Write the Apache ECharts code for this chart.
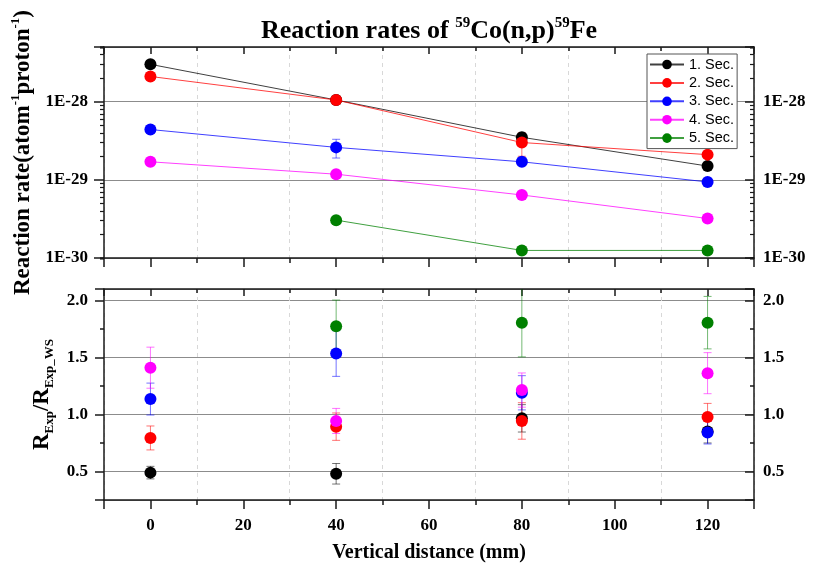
<!DOCTYPE html>
<html>
<head>
<meta charset="utf-8">
<script src="https://cdn.jsdelivr.net/npm/echarts@6/dist/echarts.min.js"></script>
<style>
  html, body { margin: 0; padding: 0; background: #fff; }
  #main { width: 815px; height: 573px; }
</style>
</head>
<body>
<div id="main"></div>
<script>
// data
const distances = [0, 40, 80, 120];
const secNames = ['1. Sec.', '2. Sec.', '3. Sec.', '4. Sec.', '5. Sec.'];
const secColors = ['#000000', '#ff0000', '#0000ff', '#ff00ff', '#008000'];

// reaction rates (atom^-1 proton^-1)
const rate1 = [3.0e-28, 1.05e-28, 3.5e-29, 1.5e-29];
const rate2 = [2.1e-28, 1.05e-28, 3.0e-29, 2.1e-29];
const rate3 = [4.4e-29, 2.6e-29, 1.7e-29, 9.4e-30];
const rate4 = [1.7e-29, 1.18e-29, 6.4e-30, 3.2e-30];
const rate5 = [null, 3.05e-30, 1.25e-30, 1.25e-30];
const rateErr1 = [0, 0, 0.2e-29, 0];
const rateErr2 = [0, 0, 1.0e-29, 0];
const rateErr3 = [0, 0.7e-29, 0, 0];
const rateErr4 = [0, 0, 0, 0];
const rateErr5 = [0, 0, 0, 0];
const rateMin = 1e-30, rateMax = 5e-28;
const rateMinorSteps = [2, 3, 4, 5, 6, 7, 8, 9];

// R_Exp / R_Exp_WS
const ratio1 = [0.49, 0.48, 0.966, 0.85];
const ratio2 = [0.794, 0.893, 0.943, 0.977];
const ratio3 = [1.135, 1.534, 1.19, 0.841];
const ratio4 = [1.41, 0.943, 1.214, 1.362];
const ratio5 = [null, 1.773, 1.805, 1.805];
const ratioErr1 = [0.055, 0.09, 0.12, 0.1];
const ratioErr2 = [0.105, 0.12, 0.16, 0.12];
const ratioErr3 = [0.14, 0.2, 0.15, 0.1];
const ratioErr4 = [0.18, 0.11, 0.15, 0.18];
const ratioErr5 = [null, 0.23, 0.3, 0.23];
const ratioMin = 0.25, ratioMax = 2.1;

const rates = [rate1, rate2, rate3, rate4, rate5];
const rateErrs = [rateErr1, rateErr2, rateErr3, rateErr4, rateErr5];
const ratios = [ratio1, ratio2, ratio3, ratio4, ratio5];
const ratioErrs = [ratioErr1, ratioErr2, ratioErr3, ratioErr4, ratioErr5];

// echarts rounds log ticks to 10 decimals, so the rate axis runs in units of 1e-30
const RU = 1e-30;
const RU_EXP = -30;

const serif = "'Liberation Serif', 'Times New Roman', serif";
const sans = "'Liberation Sans', Arial, sans-serif";
const ink = '#1a1a1a';

function pairs(vals, unit) {
    return distances.map((d, i) => [d, vals[i] == null ? null : vals[i] / unit]).filter(p => p[1] != null);
}
function errTriples(vals, errs, unit) {
    return distances
        .map((d, i) => [d, vals[i] == null ? null : vals[i] / unit, errs[i] ? errs[i] / unit : 0])
        .filter(p => p[1] != null && p[2]);
}
function hexAlpha(hex, a) {
    const n = parseInt(hex.slice(1), 16);
    return 'rgba(' + (n >> 16) + ',' + ((n >> 8) & 255) + ',' + (n & 255) + ',' + a + ')';
}
function errorBars(color) {
    return function (params, api) {
        const x = api.value(0), y = api.value(1), e = api.value(2);
        const hi = api.coord([x, y + e]);
        const lo = api.coord([x, y - e]);
        const w = 4;
        const st = { stroke: hexAlpha(color, 0.55), lineWidth: 1 };
        return {
            type: 'group',
            children: [
                { type: 'line', shape: { x1: hi[0], y1: hi[1], x2: lo[0], y2: lo[1] }, style: st },
                { type: 'line', shape: { x1: hi[0] - w, y1: hi[1], x2: hi[0] + w, y2: hi[1] }, style: st },
                { type: 'line', shape: { x1: lo[0] - w, y1: lo[1], x2: lo[0] + w, y2: lo[1] }, style: st }
            ]
        };
    };
}
function expLabel(v) {
    const e = Math.log10(v);
    const r = Math.round(e);
    return Math.abs(e - r) < 1e-6 ? '1E' + (r + RU_EXP) : '';
}
function halfLabel(v) {
    return Math.abs(v * 2 - Math.round(v * 2)) < 1e-6 ? v.toFixed(1) : '';
}

const tickFont = { fontFamily: serif, fontWeight: 'bold', fontSize: 17, color: '#000' };
const hidden = { show: false };
const noLine = { show: false, onZero: false };
const frame = { show: true, onZero: false, lineStyle: { color: ink, width: 1.5 } };

// x axes: major + minor at bottom (outward) and top (inward), per grid
function xAxes(grid, withLabels) {
    const base = { type: 'value', gridIndex: grid, min: -10, max: 130 };
    return [
        Object.assign({}, base, {
            position: 'bottom', splitNumber: 7,
            axisLine: frame,
            axisTick: { show: true, length: 9, lineStyle: { color: ink, width: 1.5 } },
            axisLabel: withLabels ? Object.assign({ margin: 17, formatter: v => (v % 20 === 0 ? String(v) : '') }, tickFont) : hidden,
            splitLine: hidden,
            name: withLabels ? 'Vertical distance (mm)' : '',
            nameLocation: 'middle', nameGap: 43,
            nameTextStyle: { fontFamily: serif, fontWeight: 'bold', fontSize: 20, color: '#000' }
        }),
        Object.assign({}, base, {
            position: 'bottom', interval: 20,
            axisLine: noLine,
            axisTick: { show: true, length: 5, lineStyle: { color: ink, width: 1.5 } },
            axisLabel: hidden,
            splitLine: { show: true, lineStyle: { color: '#d8d8d8', type: [4, 4], width: 1 } }
        }),
        Object.assign({}, base, {
            position: 'top', splitNumber: 7,
            axisLine: frame,
            axisTick: { show: true, inside: true, length: 7, lineStyle: { color: ink, width: 1.5 } },
            axisLabel: hidden, splitLine: hidden
        }),
        Object.assign({}, base, {
            position: 'top', interval: 20,
            axisLine: noLine,
            axisTick: { show: true, inside: true, length: 4, lineStyle: { color: ink, width: 1.5 } },
            axisLabel: hidden, splitLine: hidden
        })
    ];
}

const rateLimits = { min: rateMin / RU, max: rateMax / RU };
const ratioLimits = { min: ratioMin, max: ratioMax };

// minor log ticks at m x 10^n: a hidden log axis whose range is divided by m
function rateMinorAxes(position) {
    return rateMinorSteps.map(m => ({
        type: 'log', gridIndex: 0, position: position, logBase: 10,
        min: rateLimits.min / m, max: rateLimits.max / m,
        axisLine: noLine,
        axisTick: { show: true, inside: position === 'right', length: 4, lineStyle: { color: ink, width: 1.2 } },
        axisLabel: hidden, splitLine: hidden
    }));
}

const yAxes = [
    // 0: top plot, left log axis
    Object.assign({ type: 'log', gridIndex: 0, position: 'left', logBase: 10 }, rateLimits, {
        axisLine: frame,
        axisTick: { show: true, length: 10, lineStyle: { color: ink, width: 1.5 } },
        axisLabel: Object.assign({ margin: 16, formatter: expLabel }, tickFont),
        splitLine: { show: true, lineStyle: { color: '#8c8c8c', width: 1 } },
        name: '{b|Reaction rate(atom}{s|-1}{b|proton}{s|-1}{b|)}',
        nameLocation: 'middle', nameGap: 66,
        nameTextStyle: {
            fontFamily: serif, fontWeight: 'bold', fontSize: 23, color: '#000',
            rich: {
                b: { fontFamily: serif, fontWeight: 'bold', fontSize: 23, lineHeight: 28, color: '#000' },
                s: { fontFamily: serif, fontWeight: 'bold', fontSize: 13, lineHeight: 13, verticalAlign: 'top', color: '#000' }
            }
        }
    }),
    // 1: top plot, right log axis
    Object.assign({ type: 'log', gridIndex: 0, position: 'right', logBase: 10 }, rateLimits, {
        axisLine: frame,
        axisTick: { show: true, inside: true, length: 9, lineStyle: { color: ink, width: 1.5 } },
        axisLabel: Object.assign({ margin: 9, formatter: expLabel }, tickFont),
        splitLine: hidden
    }),
    // 2: bottom plot, left major
    Object.assign({ type: 'value', gridIndex: 1, position: 'left', splitNumber: 4 }, ratioLimits, {
        axisLine: frame,
        axisTick: { show: true, length: 9, lineStyle: { color: ink, width: 1.5 } },
        axisLabel: Object.assign({ margin: 16, formatter: halfLabel }, tickFont),
        splitLine: { show: true, lineStyle: { color: '#8c8c8c', width: 1 } },
        name: '{b|R}{s|Exp}{b|/R}{s|Exp_WS}',
        nameLocation: 'middle', nameGap: 47,
        nameTextStyle: {
            fontFamily: serif, fontWeight: 'bold', fontSize: 22, color: '#000',
            rich: {
                b: { fontFamily: serif, fontWeight: 'bold', fontSize: 23, lineHeight: 28, color: '#000' },
                s: { fontFamily: serif, fontWeight: 'bold', fontSize: 13, lineHeight: 13, verticalAlign: 'bottom', color: '#000' }
            }
        }
    }),
    // 3: bottom plot, left minor
    Object.assign({ type: 'value', gridIndex: 1, position: 'left', interval: 0.5 }, ratioLimits, {
        axisLine: noLine,
        axisTick: { show: true, length: 4, lineStyle: { color: ink, width: 1.5 } },
        axisLabel: hidden, splitLine: hidden
    }),
    // 4: bottom plot, right major
    Object.assign({ type: 'value', gridIndex: 1, position: 'right', splitNumber: 4 }, ratioLimits, {
        axisLine: frame,
        axisTick: { show: true, inside: true, length: 9, lineStyle: { color: ink, width: 1.5 } },
        axisLabel: Object.assign({ margin: 9, formatter: halfLabel }, tickFont),
        splitLine: hidden
    }),
    // 5: bottom plot, right minor
    Object.assign({ type: 'value', gridIndex: 1, position: 'right', interval: 0.5 }, ratioLimits, {
        axisLine: noLine,
        axisTick: { show: true, inside: true, length: 4, lineStyle: { color: ink, width: 1.5 } },
        axisLabel: hidden, splitLine: hidden
    })
].concat(rateMinorAxes('left'), rateMinorAxes('right'));

const series = [];
// error bars first so markers sit on top
rates.forEach((vals, i) => {
    series.push({
        name: secNames[i] + ' rate err', type: 'custom', xAxisIndex: 0, yAxisIndex: 0,
        renderItem: errorBars(secColors[i]), data: errTriples(vals, rateErrs[i], RU), z: 1, clip: true, silent: true
    });
});
ratios.forEach((vals, i) => {
    series.push({
        name: secNames[i] + ' ratio err', type: 'custom', xAxisIndex: 4, yAxisIndex: 2,
        renderItem: errorBars(secColors[i]), data: errTriples(vals, ratioErrs[i], 1), z: 1, clip: true, silent: true
    });
});
rates.forEach((vals, i) => {
    series.push({
        name: secNames[i], type: 'line', xAxisIndex: 0, yAxisIndex: 0,
        data: pairs(vals, RU), symbol: 'circle', symbolSize: 12, showSymbol: true,
        itemStyle: { color: secColors[i] },
        lineStyle: { color: secColors[i], width: 1, opacity: 0.75 },
        z: 3, silent: true
    });
});
ratios.forEach((vals, i) => {
    series.push({
        name: secNames[i] + ' ratio', type: 'scatter', xAxisIndex: 4, yAxisIndex: 2,
        data: pairs(vals, 1), symbol: 'circle', symbolSize: 12,
        itemStyle: { color: secColors[i], opacity: 1 },
        z: 3, silent: true
    });
});

const chart = echarts.init(document.getElementById('main'), null, { renderer: 'canvas' });
chart.setOption({
    animation: false,
    backgroundColor: '#fff',
    title: {
        text: '{b|Reaction rates of }{s|59}{b|Co(n,p)}{s|59}{b|Fe}',
        left: 424, top: 11, textAlign: 'center',
        textStyle: {
            fontFamily: serif, fontWeight: 'bold', fontSize: 26, color: '#000',
            rich: {
                b: { fontFamily: serif, fontWeight: 'bold', fontSize: 26, lineHeight: 31, color: '#000' },
                s: { fontFamily: serif, fontWeight: 'bold', fontSize: 15, lineHeight: 15, verticalAlign: 'top', color: '#000' }
            }
        }
    },
    legend: {
        data: secNames,
        orient: 'vertical',
        left: 647, top: 54,
        itemWidth: 34, itemHeight: 12, itemGap: 3.4,
        padding: [3, 3, 3, 2],
        borderColor: '#555', borderWidth: 1, backgroundColor: '#fff',
        textStyle: { fontFamily: sans, fontSize: 14.5, color: '#000', lineHeight: 14 },
        selectedMode: false
    },
    grid: [
        { left: 104, right: 61, top: 47, height: 211 },
        { left: 104, right: 61, top: 289, height: 211 }
    ],
    xAxis: xAxes(0, false).concat(xAxes(1, true)),
    yAxis: yAxes,
    series: series
});
</script>
</body>
</html>
